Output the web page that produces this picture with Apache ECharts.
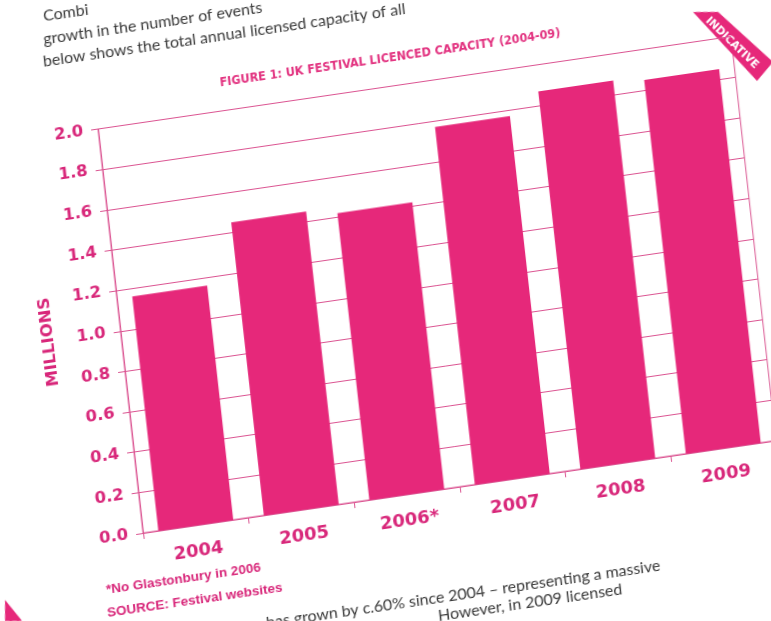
<!DOCTYPE html>
<html>
<head>
<meta charset="utf-8">
<script src="https://cdn.jsdelivr.net/npm/echarts@6/dist/echarts.min.js"></script>
<style>
  html, body { margin: 0; padding: 0; background: #ffffff; overflow: hidden; width: 771px; height: 621px; }
  #chart {
    position: absolute; left: -40px; top: -40px; width: 920px; height: 800px;
    transform-origin: 183px 573px;
  }
</style>
</head>
<body>
<div id="chart"></div>
<script>
// UK festival licensed capacity, millions of people per year
const categories = ['2004', '2005', '2006*', '2007', '2008', '2009'];
const capacityMillions = [1.16, 1.45, 1.42, 1.77, 1.87, 1.85];
const yMin = 0;
const yMax = 2.0;
const yStep = 0.2;

const titleText = 'FIGURE 1: UK FESTIVAL LICENCED CAPACITY (2004-09)';
const axisName = 'MILLIONS';
const footnotes = ['*No Glastonbury in 2006', 'SOURCE: Festival websites'];
const introLines = ['Combi', 'growth in the number of events', 'below shows the total annual licensed capacity of all'];
const outroLines = ['has grown by c.60% since 2004 \u2013 representing a massive', 'However, in 2009 licensed'];
const badgeText = 'INDICATIVE';

// The printed page is photographed at a slant: the sheet is skewed with a CSS matrix
const PINK = '#E6287A';
const INK = '#D8277A';
const RULE = '#DB5592';
const M = { a: 0.9895, b: -0.1446, c: 0.1107, d: 0.9938 };
const ORIGIN_PAGE = [143, 533];    // where the plot origin lands on the page
const ORIGIN_LOCAL = [183, 573];   // plot origin inside the chart container
const PLOT_W = 639.7, PLOT_H = 406.5;

const el = document.getElementById('chart');
el.style.transform = `matrix(${M.a},${M.b},${M.c},${M.d},0,0)`;

// page position -> container position (inverse of the sheet skew)
function local(px, py) {
  const dx = px - ORIGIN_PAGE[0], dy = py - ORIGIN_PAGE[1];
  const det = M.a * M.d - M.b * M.c;
  return [ORIGIN_LOCAL[0] + (M.d * dx - M.c * dy) / det,
          ORIGIN_LOCAL[1] + (-M.b * dx + M.a * dy) / det];
}
function angleOf(p0, p1) {
  const a = local(p0[0], p0[1]), b = local(p1[0], p1[1]);
  return -Math.atan2(b[1] - a[1], b[0] - a[0]);
}

const chart = echarts.init(el, null, { renderer: 'canvas' });

const bodyFont = { fontFamily: 'Lato, "Open Sans", sans-serif', fontSize: 16, fill: '#3a3a3a' };
const graphics = [];

// running copy above and below the figure
const introAnchors = [[44, 24], [44, 47], [44, 70]];
introLines.forEach((t, i) => {
  const p = local(introAnchors[i][0], introAnchors[i][1]);
  graphics.push({ type: 'text', x: p[0], y: p[1],
    style: Object.assign({ text: t, align: 'left', verticalAlign: 'bottom' }, bodyFont) });
});
const outroAnchors = [[661, 573], [623, 597]];
outroLines.forEach((t, i) => {
  const p = local(outroAnchors[i][0], outroAnchors[i][1]);
  graphics.push({ type: 'text', x: p[0], y: p[1],
    style: Object.assign({ text: t, align: 'right', verticalAlign: 'bottom' }, bodyFont) });
});

// figure caption
const tp = local(390, 58);
graphics.push({ type: 'text', x: tp[0], y: tp[1],
  style: { text: titleText, align: 'center', verticalAlign: 'middle', fill: '#E2317F',
    fontFamily: '"Liberation Sans Narrow", "DejaVu Sans Condensed", "Arial Narrow", sans-serif',
    fontWeight: 'bold', fontSize: 12.5 } });

// vertical axis name
const np = local(49, 342);
graphics.push({ type: 'text', x: np[0], y: np[1], rotation: Math.PI / 2,
  style: { text: axisName, align: 'center', verticalAlign: 'middle', fill: INK,
    fontFamily: '"DejaVu Sans", sans-serif', fontWeight: 'bold', fontSize: 16.5 } });

// notes under the axis
const noteAnchors = [[107, 597], [108, 620]];
footnotes.forEach((t, i) => {
  const p = local(noteAnchors[i][0], noteAnchors[i][1]);
  graphics.push({ type: 'text', x: p[0], y: p[1],
    style: { text: t, align: 'left', verticalAlign: 'bottom', fill: INK,
      fontFamily: '"Liberation Sans", sans-serif', fontWeight: 'bold', fontSize: 13.5 } });
});

// corner ribbon
const ribbon = [[693, 12], [718, 12], [773, 62], [757, 81]].map(q => local(q[0], q[1]));
graphics.push({ type: 'polygon', shape: { points: ribbon }, style: { fill: PINK } });
const rp = local(732, 43);
graphics.push({ type: 'text', x: rp[0], y: rp[1], rotation: angleOf([705, 17], [764, 74]),
  style: { text: badgeText, align: 'center', verticalAlign: 'middle', fill: '#ffffff',
    fontFamily: '"DejaVu Sans", sans-serif', fontWeight: 'bold', fontSize: 11 } });

// page-edge marker
const tri = [[5, 600], [22, 621], [5, 621]].map(q => local(q[0], q[1]));
graphics.push({ type: 'polygon', shape: { points: tri }, style: { fill: PINK } });

const option = {
  animation: false,
  backgroundColor: 'transparent',
  grid: {
    left: ORIGIN_LOCAL[0], top: ORIGIN_LOCAL[1] - PLOT_H, width: PLOT_W, height: PLOT_H,
    show: true, borderColor: RULE, borderWidth: 1, backgroundColor: 'transparent'
  },
  xAxis: {
    type: 'category',
    data: categories,
    axisLine: { show: true, lineStyle: { color: RULE, width: 1 } },
    axisTick: { show: true, length: 6, inside: false, lineStyle: { color: RULE, width: 1 } },
    axisLabel: { color: INK, fontWeight: 'bold', fontSize: 18, margin: 17,
      fontFamily: '"DejaVu Sans", sans-serif' },
    splitLine: { show: false }
  },
  yAxis: {
    type: 'value',
    min: yMin, max: yMax, interval: yStep,
    axisLine: { show: true, lineStyle: { color: RULE, width: 1 } },
    axisTick: { show: true, length: 7, lineStyle: { color: RULE, width: 1 } },
    axisLabel: { color: INK, fontWeight: 'bold', fontSize: 16.5, margin: 15,
      fontFamily: '"DejaVu Sans", sans-serif',
      formatter: v => v.toFixed(1) },
    splitLine: { show: true, lineStyle: { color: RULE, width: 1 } }
  },
  series: [{
    type: 'bar',
    data: capacityMillions,
    barCategoryGap: '29%',
    itemStyle: { color: PINK },
    z: 3
  }],
  graphic: graphics
};

chart.setOption(option);
</script>
</body>
</html>
